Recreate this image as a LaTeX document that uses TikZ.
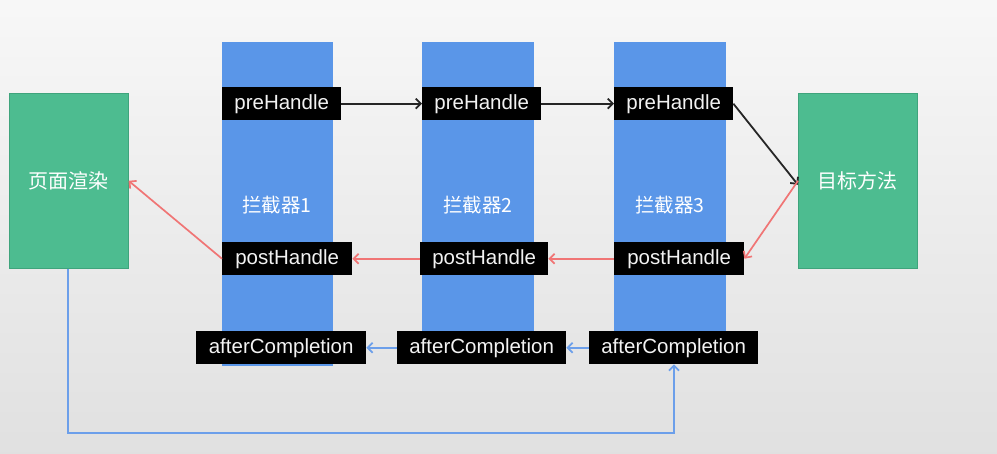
\documentclass[tikz,border=0pt]{standalone}
\usepackage{fontspec}
\setmainfont{Liberation Sans}
\newfontfamily\cjk{Noto Sans CJK SC}
\usetikzlibrary{arrows.meta}
\definecolor{bggreen}{HTML}{4DBC90}
\definecolor{greenedge}{HTML}{3FA47C}
\definecolor{colblue}{HTML}{5A96E8}
\definecolor{redarr}{HTML}{F07575}
\definecolor{bluearr}{HTML}{6C9FEA}
\definecolor{labtext}{HTML}{F2F2F2}
\begin{document}
\begin{tikzpicture}[x=1pt,y=-1pt,
  greenbox/.style={draw=greenedge,line width=0.6pt,fill=bggreen,inner sep=0pt,anchor=north west,text=white,font=\cjk\fontsize{20}{24}\selectfont},
  column/.style={fill=colblue,inner sep=0pt,anchor=north west},
  collabel/.style={text=white,font=\cjk\fontsize{19.5}{24}\selectfont,inner sep=0pt},
  lab/.style={fill=black,inner sep=0pt,anchor=north west,minimum height=33pt,text=labtext,font=\fontsize{20.5}{24}\selectfont},
  tip/.style={-{Straight Barb[length=5pt,width=10pt]}},
  blk/.style={tip,draw=black!85,line width=1.8pt},
  red/.style={tip,draw=redarr,line width=1.7pt},
  blu/.style={tip,draw=bluearr,line width=1.8pt}
]
\shade[top color=black!3,bottom color=black!12] (0,0) rectangle (997,453);
\useasboundingbox (0,0) rectangle (997,453);

% green boxes
\node[greenbox,minimum width=119pt,minimum height=175pt] (page) at (9,93) {页面渲染};
\node[greenbox,minimum width=119pt,minimum height=175pt] (target) at (798,93) {目标方法};

% columns
\node[column,minimum width=111pt,minimum height=324pt] (c1) at (222,42) {};
\node[column,minimum width=112pt,minimum height=303pt] (c2) at (422,42) {};
\node[column,minimum width=112pt,minimum height=303pt] (c3) at (614,42) {};
\node[collabel] (l1) at (277,205) {拦截器1};
\node[collabel] (l2) at (478,205) {拦截器2};
\node[collabel] (l3) at (670,205) {拦截器3};

% preHandle
\node[lab,minimum width=119pt] (pre1) at (222,87) {preHandle};
\node[lab,minimum width=119pt] (pre2) at (422,87) {preHandle};
\node[lab,minimum width=119pt] (pre3) at (614,87) {preHandle};

% postHandle
\node[lab,minimum width=130pt] (post1) at (222,242) {postHandle};
\node[lab,minimum width=128pt] (post2) at (420,242) {postHandle};
\node[lab,minimum width=130pt] (post3) at (614,242) {postHandle};

% afterCompletion
\node[lab,minimum width=170pt] (after1) at (196,331) {afterCompletion};
\node[lab,minimum width=169pt] (after2) at (397,331) {afterCompletion};
\node[lab,minimum width=169pt] (after3) at (589,331) {afterCompletion};

% connectors
\draw[blk] (pre1.east) -- (pre2.west);
\draw[blk] (pre2.east) -- (pre3.west);
\draw[blk] (pre3.east) -- ([yshift=-4pt]target.west);
\draw[red] (target.west) -- (post3.east);
\draw[red] (post3.west) -- (post2.east);
\draw[red] (post2.west) -- (post1.east);
\draw[red] (post1.west) -- (page.east);
\draw[blu] (after3.west) -- (after2.east);
\draw[blu] (after2.west) -- (after1.east);
\coordinate (cA) at (68,433);
\coordinate (cB) at (674,433);
\draw[blu] (page.south -| cA) -- (cA) -- (cB) -- (after3.south -| cB);
\end{tikzpicture}
\end{document}
